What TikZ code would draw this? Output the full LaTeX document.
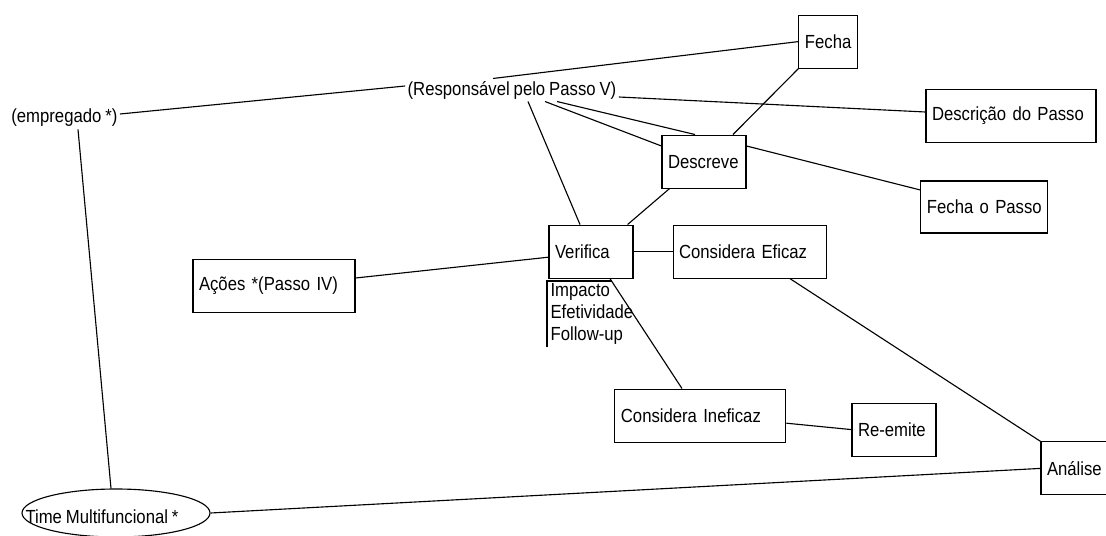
\documentclass[tikz,border=0pt]{standalone}
\usepackage{fontspec}
\setmainfont{Liberation Sans}[FakeStretch=0.88, WordSpace=0.85]
\usetikzlibrary{calc,shapes.geometric}

\begin{document}
\begin{tikzpicture}[
  font=\fontsize{13.5}{15.6}\selectfont,
  line width=0.8pt,
  box/.style={draw, line width=0.8pt, align=left, inner xsep=0.15cm,
    minimum height=1.325cm},
  term/.style={inner sep=0.05cm},
  oval/.style={draw, ellipse, inner sep=0pt},
  wire/.style={line width=0.8pt},
]
  \useasboundingbox (0,0) rectangle (27.65,-13.4);

  % ===== roles =====
  \node[term] (emp) at (1.61,-2.95) {(empregado *)};
  \node[term] (resp) at (12.8,-2.25) {(Responsável pelo Passo V)};
  \node[oval, minimum width=4.7cm, minimum height=1.2cm,
    label={[xshift=-0.35cm, yshift=-0.1cm]center:Time Multifuncional *}]
    (time) at (2.9,-12.825) {};

  % ===== step boxes =====
  \node[box, text width=1.175cm] (fecha) at (20.71,-1.04) {Fecha};
  \node[box, text width=3.95cm] (desc) at (25.275,-2.9) {Descrição do Passo};
  \node[box, text width=2.875cm, minimum height=1.3cm] (fechaP) at (24.61,-5.175)
    {Fecha o Passo};
  \node[box, text width=1.8cm] (descr) at (17.6,-4.04) {Descreve};
  \node[box, text width=1.8cm] (verif) at (14.775,-6.29) {Verifica};
  \node[box, text width=3.525cm] (eficaz) at (18.74,-6.29) {Considera Eficaz};
  \node[box, text width=3.75cm] (acoes) at (6.85,-7.14) {Ações *(Passo IV)};
  \node[box, text width=3.975cm] (inef) at (17.51,-10.39) {Considera Ineficaz};
  \node[box, text width=1.8cm] (reemite) at (22.35,-10.74) {Re-emite};
  \node[box, text width=1.8cm] (analise) at (27.075,-11.71) {Análise};

  % criteria under Verifica
  \node[anchor=north west, align=left, inner xsep=0.075cm, inner ysep=0.05cm]
    (crit) at (13.675,-7.025) {Impacto\\Efetividade\\Follow-up};
  \draw[wire] ($(crit.north west)+(1.625,0)$) -- (crit.north west) -- (crit.south west);

  % ===== links =====
  \draw[wire] ($(emp.east)+(0,0.1)$) -- ($(resp.west)+(0,0.1)$);
  \draw[wire] (emp.south) ++(0.34,0) -- ($(time.north)+(-0.125,0)$);
  \draw[wire] ($(resp.north)+(-0.475,0)$) -- (fecha.west);
  \draw[wire] ($(resp.east)+(0,-0.175)$) -- ($(desc.west)+(0,0.1)$);
  \draw[wire] ($(resp.south)+(1.125,0)$) -- ($(descr.north)+(-0.225,0)$);
  \draw[wire] ($(resp.south)+(0.825,0)$) -- ($(descr.west)+(0,0.39)$);
  \draw[wire] ($(resp.south)+(0.4,0)$) -- ($(verif.north)+(-0.275,0)$);
  \draw[wire] (fecha.south west) -- ($(descr.north)+(0.725,0)$);
  \draw[wire] ($(descr.south west)+(0.2,0)$) -- ($(verif.north east)+(-0.15,0)$);
  \draw[wire] ($(descr.east)+(0,0.39)$) -- ($(fechaP.west)+(0,0.425)$);
  \draw[wire] ($(acoes.east)+(0,0.19)$) -- ($(verif.west)+(0,-0.14)$);
  \draw[wire] (verif.east) -- (eficaz.west);
  \draw[wire] ($(verif.south)+(0.475,0)$) -- ($(inef.north)+(-0.46,0)$);
  \draw[wire] ($(eficaz.south)+(1.01,0)$) -- (analise.north west);
  \draw[wire] ($(inef.east)+(0,-0.19)$) -- (reemite.west);
  \draw[wire] (time.east) -- (analise.west);
\end{tikzpicture}
\end{document}
